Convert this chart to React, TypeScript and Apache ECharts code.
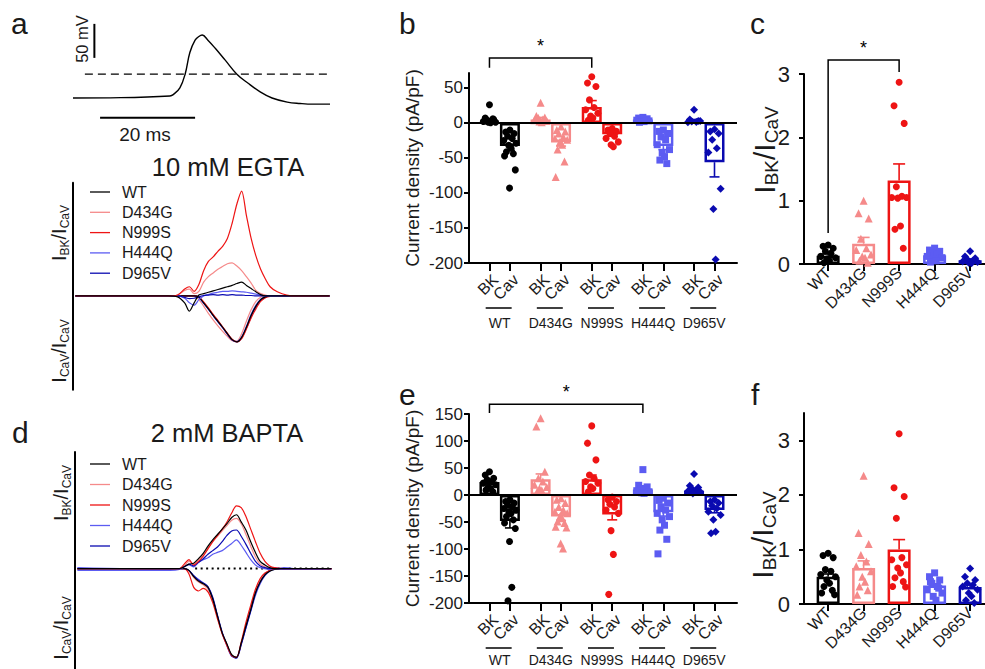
import React, { useEffect, useRef } from 'react';
import * as echarts from 'echarts';

const FONT = '"Liberation Sans", Arial, Helvetica, sans-serif';
const TEXT = '#1a1a1a';

// ---------- categories / styling keys ----------
const genotypes = ['WT', 'D434G', 'N999S', 'H444Q', 'D965V'];
const colors = ['#000000', '#f58a8a', '#ee1414', '#5c5cf2', '#0a0ab0'];
const symbols = ['circle', 'triangle', 'circle', 'rect', 'diamond'];
const symbolSizes = [7, 8, 7, 7, 8];
const currentKinds = ['BK', 'Cav'];

// ---------- panel a: action-potential command ----------
const apTime = [0, 10, 20.4, 21.1, 22.5, 23.6, 24.6, 25.7, 26.5, 27.2, 28.4, 29.9, 32, 34.5, 36.8, 39.4, 41.9, 45.1, 47.8, 50.5, 54.1];
const apMv = [-65, -64.5, -62, -60, -50, -30, 2, 20, 25.5, 27.6, 20, 8.5, -9, -30, -43, -56, -65, -71, -73, -74, -74];
const apThreshold = [[2.5, -30], [54.1, -30]];
const apScaleMv = [[4.5, -6], [4.5, 44]];
const apScaleMs = [[5.7, -94], [25.7, -94]];

// ---------- panel a: 10 mM EGTA traces (normalised to peak I_CaV) ----------
const traceTimeA = [0.5, 20, 22, 23.5, 24.5, 25.5, 26.5, 27.5, 28.5, 29.5, 30.5, 31.5, 32.5, 33.5, 34.5, 35.5, 36.5, 37.5, 38.5, 39.5, 40.5, 41.5, 43, 45, 48, 54];
const egtaTraceBK = [
  [0, 0, -0.02, -0.15, -0.33, -0.15, 0.02, 0.05, 0.08, 0.11, 0.14, 0.17, 0.2, 0.23, 0.27, 0.3, 0.23, 0.16, 0.09, 0.03, 0, 0, 0, 0, 0, 0],
  [0, 0, 0.02, 0.12, 0.15, 0.05, 0.1, 0.3, 0.42, 0.5, 0.58, 0.64, 0.7, 0.72, 0.65, 0.55, 0.42, 0.28, 0.12, 0.05, 0.02, 0, 0, 0, 0, 0],
  [0, 0, 0.02, 0.15, 0.2, 0.1, 0.25, 0.55, 0.75, 0.85, 0.97, 1.08, 1.25, 1.58, 2.0, 2.28, 1.75, 1.25, 0.87, 0.58, 0.37, 0.2, 0.09, 0.02, 0, 0],
  [0, 0, 0, -0.05, -0.15, -0.2, -0.08, 0, 0.03, 0.06, 0.08, 0.1, 0.1, 0.11, 0.1, 0.09, 0.08, 0.06, 0.04, 0.02, 0, 0, 0, 0, 0, 0],
  [0, 0, 0, -0.03, -0.06, -0.05, -0.02, 0.01, 0.02, 0.03, 0.02, 0.03, 0.02, 0.03, 0.02, 0.02, 0.01, 0.01, 0, 0, 0, 0, 0, 0, 0, 0],
];
const egtaTraceCaV = [
  [0, 0, 0, 0, 0, 0, -0.03, -0.15, -0.28, -0.42, -0.55, -0.68, -0.82, -0.95, -1.0, -0.9, -0.68, -0.42, -0.22, -0.08, -0.02, 0, 0, 0, 0, 0],
  [0, 0, 0, 0, 0, 0, -0.08, -0.22, -0.38, -0.52, -0.65, -0.77, -0.88, -0.97, -0.98, -0.82, -0.55, -0.3, -0.12, -0.03, 0, 0, 0, 0, 0, 0],
  [0, 0, 0, 0, 0, 0, -0.02, -0.13, -0.26, -0.4, -0.53, -0.67, -0.81, -0.94, -1.0, -0.93, -0.72, -0.48, -0.28, -0.12, -0.04, -0.01, 0, 0, 0, 0],
  [0, 0, 0, 0, 0, 0, -0.04, -0.16, -0.29, -0.43, -0.56, -0.69, -0.83, -0.95, -0.99, -0.89, -0.66, -0.4, -0.2, -0.07, -0.02, 0, 0, 0, 0, 0],
  [0, 0, 0, 0, 0, 0, -0.03, -0.15, -0.28, -0.42, -0.56, -0.69, -0.83, -0.96, -1.0, -0.91, -0.7, -0.45, -0.24, -0.1, -0.03, 0, 0, 0, 0, 0],
];

// ---------- panel d: 2 mM BAPTA traces ----------
const traceTimeD = [0.5, 20, 22, 23, 24, 25, 26, 27, 28, 29, 30, 31, 32, 33, 34, 35, 36, 37, 38, 39, 40, 41, 42, 44, 48, 54];
const baptaTraceBK = [
  [0, 0, 0, 0.02, 0.05, 0.06, 0.11, 0.17, 0.25, 0.32, 0.38, 0.44, 0.5, 0.57, 0.6, 0.52, 0.43, 0.3, 0.18, 0.08, 0.04, 0.01, 0, 0, 0, 0],
  [0, 0, 0, 0.03, 0.08, 0.05, 0.1, 0.16, 0.23, 0.3, 0.36, 0.42, 0.48, 0.54, 0.56, 0.5, 0.38, 0.25, 0.13, 0.05, 0.02, 0, 0, 0, 0, 0],
  [0, 0, 0, 0.05, 0.1, 0.04, 0.08, 0.14, 0.22, 0.3, 0.37, 0.44, 0.52, 0.62, 0.7, 0.68, 0.58, 0.44, 0.3, 0.17, 0.08, 0.03, 0.01, 0, 0, 0],
  [-0.02, -0.02, -0.01, 0.02, 0.04, 0.02, 0.07, 0.1, 0.12, 0.16, 0.18, 0.2, 0.24, 0.28, 0.32, 0.26, 0.18, 0.1, 0.04, 0.01, 0, -0.01, 0.01, -0.01, -0.01, 0],
  [0, 0, 0, 0.02, 0.05, 0.03, 0.07, 0.11, 0.16, 0.2, 0.24, 0.3, 0.37, 0.42, 0.43, 0.36, 0.27, 0.17, 0.08, 0.03, 0.01, 0, 0, 0, 0, 0],
];
const baptaTraceCaV = [
  [0, 0, 0, 0, -0.02, -0.09, -0.14, -0.17, -0.21, -0.34, -0.53, -0.72, -0.84, -0.96, -0.99, -0.83, -0.64, -0.46, -0.27, -0.15, -0.07, -0.03, -0.01, 0, 0, 0],
  [0, 0, 0, 0, -0.03, -0.1, -0.15, -0.18, -0.23, -0.35, -0.54, -0.72, -0.85, -0.97, -0.99, -0.84, -0.63, -0.44, -0.26, -0.13, -0.06, -0.02, 0, 0, 0, 0],
  [0, 0, 0, 0, -0.06, -0.21, -0.25, -0.22, -0.26, -0.38, -0.56, -0.73, -0.86, -0.97, -0.99, -0.82, -0.6, -0.41, -0.23, -0.11, -0.05, -0.02, 0, 0, 0, 0],
  [0.01, -0.01, 0, 0, -0.02, -0.08, -0.12, -0.16, -0.21, -0.33, -0.53, -0.72, -0.86, -0.98, -0.99, -0.84, -0.66, -0.48, -0.3, -0.17, -0.08, -0.03, -0.01, 0.01, -0.01, 0],
  [0, 0, 0, 0, -0.02, -0.08, -0.13, -0.16, -0.2, -0.32, -0.52, -0.71, -0.85, -0.97, -1.0, -0.85, -0.66, -0.47, -0.28, -0.15, -0.07, -0.02, 0, 0, 0, 0],
];
const baptaZeroLine = [[25.3, 0], [54, 0]];

// ---------- panel b: EGTA current densities (pA/pF) ----------
const egtaBKMean = [3, 5, 23, 5, 3];
const egtaBKSem = [2, 3, 9, 1, 2];
const egtaCaVMean = [-33, -27, -16, -33, -56];
const egtaCaVSem = [6, 6, 3, 5, 21];
const egtaBKPoints = [
  [26, 7, 5, 4, 3, 2, 1, 1, 0.5, 3, 6],
  [29, 10, 8, 7, 5, 4, 3, 2, 1, 6],
  [66, 57, 52, 33, 22, 19, 14, 10, 7, 4],
  [8, 7, 6, 5, 5, 4, 3, 3, 2, 1],
  [19, 5, 3, 2, 1.5, 1, 3],
];
const egtaCaVPoints = [
  [-10, -13, -15, -19, -22, -25, -29, -32, -36, -41, -44, -47, -67, -93],
  [-5, -10, -12, -15, -20, -22, -24, -27, -31, -38, -55, -77],
  [-8, -10, -12, -15, -19, -22, -27, -31, -34],
  [-10, -12, -15, -20, -24, -31, -38, -43, -48, -53, -58],
  [-9, -12, -15, -24, -36, -42, -94, -123, -195],
];

// ---------- panel c: EGTA I_BK / I_CaV ----------
const egtaRatioMean = [0.13, 0.32, 1.32, 0.14, 0.06];
const egtaRatioSem = [0.03, 0.1, 0.26, 0.02, 0.02];
const egtaRatioPoints = [
  [0.3, 0.28, 0.25, 0.2, 0.17, 0.12, 0.1, 0.08, 0.05, 0.02],
  [1.0, 0.8, 0.72, 0.4, 0.25, 0.22, 0.15, 0.12, 0.1, 0.05, 0.02],
  [2.87, 2.5, 2.22, 1.22, 1.07, 1.05, 1.05, 1.04, 0.6, 0.55, 0.25],
  [0.25, 0.22, 0.2, 0.18, 0.15, 0.12, 0.1, 0.08, 0.05, 0.03],
  [0.2, 0.12, 0.09, 0.07, 0.05, 0.04, 0.03, 0.02, 0.01],
];

// ---------- panel e: BAPTA current densities (pA/pF) ----------
const baptaBKMean = [24, 29, 29, 10, 8];
const baptaBKSem = [4, 10, 8, 3, 3];
const baptaCaVMean = [-48, -40, -36, -32, -28];
const baptaCaVSem = [13, 7, 10, 7, 5];
const baptaBKPoints = [
  [43, 37, 31, 28, 25, 22, 19, 15, 12, 9, 6],
  [142, 127, 43, 31, 25, 19, 15, 12, 9, 6],
  [128, 96, 65, 37, 31, 25, 22, 15, 12, 6],
  [47, 18, 15, 12, 10, 8, 6, 4, 3],
  [39, 17, 14, 12, 9, 7, 6, 3],
];
const baptaCaVPoints = [
  [-9, -12, -15, -19, -22, -25, -28, -31, -34, -40, -46, -52, -62, -86, -171, -196],
  [-6, -9, -15, -22, -28, -31, -34, -40, -43, -49, -52, -59, -60, -90, -99],
  [-4, -9, -12, -17, -22, -28, -34, -66, -110, -184],
  [-6, -10, -15, -22, -28, -34, -40, -46, -56, -65, -82, -109],
  [-9, -12, -15, -20, -25, -31, -37, -46, -68, -71],
];

// ---------- panel f: BAPTA I_BK / I_CaV ----------
const baptaRatioMean = [0.5, 0.66, 1.0, 0.34, 0.31];
const baptaRatioSem = [0.05, 0.13, 0.18, 0.03, 0.04];
const baptaRatioPoints = [
  [0.93, 0.89, 0.85, 0.63, 0.6, 0.54, 0.5, 0.44, 0.38, 0.32, 0.25, 0.2, 0.17],
  [2.35, 1.3, 1.1, 0.9, 0.78, 0.69, 0.6, 0.5, 0.41, 0.32, 0.25, 0.17],
  [3.12, 2.13, 1.97, 1.57, 0.85, 0.81, 0.72, 0.66, 0.57, 0.48, 0.41, 0.32, 0.31],
  [0.57, 0.5, 0.44, 0.38, 0.32, 0.26, 0.2, 0.14, 0.07, 0.41, 0.29],
  [0.65, 0.5, 0.44, 0.38, 0.35, 0.32, 0.26, 0.2, 0.14, 0.07, 0.02],
];

// ---------- tick values ----------
const densityTicksB = [-200, -150, -100, -50, 0, 50];
const densityTicksE = [-200, -150, -100, -50, 0, 50, 100, 150];
const ratioTicksC = [0, 1, 2, 3];
const ratioTicksF = [0, 1, 2, 3];

// ---------- layout helpers (positions, not data) ----------
const JIT = [0, -0.55, 0.55, -0.3, 0.3, -0.8, 0.8, -0.15, 0.15, -0.45, 0.45, -0.7, 0.7, -0.05, 0.25, -0.25, 0.6, -0.6];
const bkPos = (g: number) => 5 * g;
const cavPos = (g: number) => 5 * g + 2;
const pairTicks = genotypes.flatMap((_, g) => [bkPos(g), cavPos(g)]);

const jitter = (center: number, values: number[], half: number) =>
  values.map((v, k) => [center + JIT[k % JIT.length] * half, v]);

const richSub = (main: number, sub: number) => ({
  n: { fontSize: main, fontFamily: FONT, lineHeight: main + 4, fill: TEXT },
  s: { fontSize: sub, fontFamily: FONT, lineHeight: sub, verticalAlign: 'bottom', fill: TEXT },
});

function buildOption() {
  const series: any[] = [];
  const lineBase = { type: 'line', symbol: 'none', silent: true, animation: false, clip: false };

  // AP
  series.push({ ...lineBase, xAxisIndex: 0, yAxisIndex: 0, smooth: 0.4, data: apTime.map((t, i) => [t, apMv[i]]), lineStyle: { color: '#000', width: 1.4 } });
  series.push({ ...lineBase, xAxisIndex: 0, yAxisIndex: 0, data: apThreshold, lineStyle: { color: '#000', width: 1.3, type: [8, 5] } });
  series.push({ ...lineBase, xAxisIndex: 0, yAxisIndex: 0, data: apScaleMv, lineStyle: { color: '#000', width: 2 } });
  series.push({ ...lineBase, xAxisIndex: 0, yAxisIndex: 0, data: apScaleMs, lineStyle: { color: '#000', width: 2 } });

  const traceOrder = [1, 3, 4, 2, 0];
  traceOrder.forEach((g) => {
    series.push({ ...lineBase, name: genotypes[g], xAxisIndex: 1, yAxisIndex: 1, smooth: 0.3, data: traceTimeA.map((t, i) => [t, egtaTraceCaV[g][i]]), lineStyle: { color: colors[g], width: 1.2 } });
  });
  traceOrder.forEach((g) => {
    series.push({ ...lineBase, name: genotypes[g], xAxisIndex: 1, yAxisIndex: 1, smooth: 0.3, data: traceTimeA.map((t, i) => [t, egtaTraceBK[g][i]]), lineStyle: { color: colors[g], width: 1.2 } });
  });
  series.push({ ...lineBase, xAxisIndex: 2, yAxisIndex: 2, data: baptaZeroLine, lineStyle: { color: '#000', width: 2, type: [2, 3.5] } });
  traceOrder.forEach((g) => {
    series.push({ ...lineBase, name: genotypes[g], xAxisIndex: 2, yAxisIndex: 2, smooth: 0.3, data: traceTimeD.map((t, i) => [t, baptaTraceCaV[g][i]]), lineStyle: { color: colors[g], width: 1.2 } });
  });
  traceOrder.forEach((g) => {
    series.push({ ...lineBase, name: genotypes[g], xAxisIndex: 2, yAxisIndex: 2, smooth: 0.3, data: traceTimeD.map((t, i) => [t, baptaTraceBK[g][i]]), lineStyle: { color: colors[g], width: 1.2 } });
  });

  const errorSeries = (xi: number, yi: number, data: number[][], capHalf: number) => ({
    type: 'custom', xAxisIndex: xi, yAxisIndex: yi, clip: false, silent: true, z: 3,
    encode: { x: 0, y: 1 },
    data,
    renderItem: (_p: any, api: any) => {
      const x = api.value(0), m = api.value(1), s = api.value(2), g = api.value(3);
      const dir = m >= 0 ? 1 : -1;
      const a = api.coord([x, m]);
      const b = api.coord([x, m + dir * s]);
      const st = { stroke: colors[g], lineWidth: 1.6 };
      return {
        type: 'group', children: [
          { type: 'line', shape: { x1: a[0], y1: a[1], x2: b[0], y2: b[1] }, style: st },
          { type: 'line', shape: { x1: b[0] - capHalf, y1: b[1], x2: b[0] + capHalf, y2: b[1] }, style: st },
        ],
      };
    },
  });
  const bracketSeries = (xi: number, yi: number, d: number[]) => ({
    type: 'custom', xAxisIndex: xi, yAxisIndex: yi, clip: false, silent: true, z: 5,
    encode: { x: [0, 1], y: [2, 3, 4] },
    data: [d],
    renderItem: (_p: any, api: any) => {
      const x1 = api.value(0), x2 = api.value(1), top = api.value(2), l = api.value(3), r = api.value(4);
      const pL = api.coord([x1, l]), pA = api.coord([x1, top]), pB = api.coord([x2, top]), pR = api.coord([x2, r]);
      return {
        type: 'group', children: [
          { type: 'polyline', shape: { points: [pL, pA, pB, pR] }, style: { stroke: '#000', lineWidth: 1.5, fill: null } },
          { type: 'text', style: { text: '*', x: (pA[0] + pB[0]) / 2, y: pA[1] - 3, align: 'center', verticalAlign: 'bottom', font: `18px ${FONT}`, fill: '#000' } },
        ],
      };
    },
  });
  // group underline + name below the BK/Cav pair
  const groupSeries = (xi: number, yi: number, yMin: number, nameOffset: number) => ({
    type: 'custom', xAxisIndex: xi, yAxisIndex: yi, clip: false, silent: true,
    encode: { x: 0, y: 1 },
    data: genotypes.map((_, g) => [bkPos(g), yMin, g]),
    renderItem: (_p: any, api: any) => {
      const p0 = api.coord([api.value(0), api.value(1)]);
      const p1 = api.coord([api.value(0) + 1, api.value(1)]);
      const unit = p1[0] - p0[0];
      const cx = p0[0] + 0.9 * unit;
      const half = 1.27 * unit;
      return {
        type: 'group', children: [
          { type: 'line', shape: { x1: cx - half, y1: p0[1] + 45, x2: cx + half, y2: p0[1] + 45 }, style: { stroke: '#000', lineWidth: 1.5 } },
          { type: 'text', style: { text: genotypes[api.value(2)], x: p0[0] + unit, y: p0[1] + nameOffset, align: 'center', verticalAlign: 'middle', font: `14px ${FONT}`, fill: TEXT } },
        ],
      };
    },
  });
  // rotated BK / Cav tick labels (45 degrees, ending at the tick)
  const pairLabelSeries = (xi: number, yi: number, yMin: number) => ({
    type: 'custom', xAxisIndex: xi, yAxisIndex: yi, clip: false, silent: true,
    encode: { x: 0, y: 1 },
    data: genotypes.flatMap((_, g) => [[bkPos(g), yMin, 0], [cavPos(g), yMin, 1]]),
    renderItem: (_p: any, api: any) => {
      const p = api.coord([api.value(0), api.value(1)]);
      return {
        type: 'text', x: p[0] + 6, y: p[1] + 14, rotation: Math.PI / 4,
        style: { text: currentKinds[api.value(2)], x: 0, y: 0, align: 'right', verticalAlign: 'middle', font: `16px ${FONT}`, fill: TEXT },
      };
    },
  });

  const densityPanel = (xi: number, yi: number, bkMean: number[], bkSem: number[], cavMean: number[], cavSem: number[], bkPts: number[][], cavPts: number[][], nameOffset: number) => {
    const barData: any[] = [];
    const errData: number[][] = [];
    genotypes.forEach((_, g) => {
      barData.push({ value: [bkPos(g), bkMean[g]], itemStyle: { color: '#fff', borderColor: colors[g], borderWidth: 2.5 } });
      barData.push({ value: [cavPos(g), cavMean[g]], itemStyle: { color: '#fff', borderColor: colors[g], borderWidth: 2.5 } });
      errData.push([bkPos(g), bkMean[g], bkSem[g], g]);
      errData.push([cavPos(g), cavMean[g], cavSem[g], g]);
    });
    series.push({
      type: 'bar', xAxisIndex: xi, yAxisIndex: yi, barWidth: 20, silent: true, z: 2, data: barData,
      markLine: { silent: true, symbol: 'none', label: { show: false }, data: [{ yAxis: 0 }], lineStyle: { color: '#000', width: 2, type: 'solid' } },
    });
    series.push(errorSeries(xi, yi, errData, 5));
    genotypes.forEach((name, g) => {
      series.push({
        type: 'scatter', name, xAxisIndex: xi, yAxisIndex: yi, silent: true, z: 4,
        symbol: symbols[g], symbolSize: symbolSizes[g], itemStyle: { color: colors[g], opacity: 1 },
        data: [...jitter(bkPos(g), bkPts[g], 0.75), ...jitter(cavPos(g), cavPts[g], 0.75)],
      });
    });
    series.push(groupSeries(xi, yi, -200, nameOffset));
    series.push(pairLabelSeries(xi, yi, -200));
  };
  densityPanel(3, 3, egtaBKMean, egtaBKSem, egtaCaVMean, egtaCaVSem, egtaBKPoints, egtaCaVPoints, 60);
  series.push(bracketSeries(3, 3, [bkPos(0), bkPos(2), 93, 79, 79]));
  densityPanel(5, 5, baptaBKMean, baptaBKSem, baptaCaVMean, baptaCaVSem, baptaBKPoints, baptaCaVPoints, 57);
  series.push(bracketSeries(5, 5, [bkPos(0), bkPos(3), 168, 152, 152]));

  const ratioPanel = (xi: number, yi: number, mean: number[], sem: number[], pts: number[][]) => {
    series.push({
      type: 'bar', xAxisIndex: xi, yAxisIndex: yi, barWidth: 23, silent: true, z: 2,
      data: genotypes.map((_, g) => ({ value: [g, mean[g]], itemStyle: { color: '#fff', borderColor: colors[g], borderWidth: 2.5 } })),
    });
    series.push(errorSeries(xi, yi, genotypes.map((_, g) => [g, mean[g], sem[g], g]), 6));
    genotypes.forEach((name, g) => {
      series.push({
        type: 'scatter', name, xAxisIndex: xi, yAxisIndex: yi, silent: true, z: 4,
        symbol: symbols[g], symbolSize: symbolSizes[g], itemStyle: { color: colors[g], opacity: 1 },
        data: jitter(g, pts[g], 0.26),
      });
    });
  };
  ratioPanel(4, 4, egtaRatioMean, egtaRatioSem, egtaRatioPoints);
  series.push(bracketSeries(4, 4, [0, 2, 3.22, 0.49, 3.03]));
  ratioPanel(6, 6, baptaRatioMean, baptaRatioSem, baptaRatioPoints);

  const axLine = { show: true, onZero: false, lineStyle: { color: '#000', width: 2 } };
  const hidden = { show: false };
  const traceX = (gridIndex: number, max: number) => ({ gridIndex, type: 'value', min: 0, max, show: false });
  const pairX = (gridIndex: number) => ({
    gridIndex, type: 'value', min: -2, max: 24.2, position: 'bottom',
    axisLine: axLine,
    axisTick: { show: true, customValues: pairTicks, length: 8, lineStyle: { color: '#000', width: 2 } },
    axisLabel: { show: false },
    splitLine: hidden,
  });
  const ratioX = (gridIndex: number) => ({
    gridIndex, type: 'value', min: -0.68, max: 4.42, position: 'bottom',
    axisLine: axLine,
    axisTick: { show: true, customValues: [0, 1, 2, 3, 4], length: 7, lineStyle: { color: '#000', width: 2 } },
    axisLabel: { show: true, customValues: [0, 1, 2, 3, 4], rotate: 45, margin: 6, color: TEXT, fontSize: 16, fontFamily: FONT, formatter: (v: number) => genotypes[Math.round(v)], showMinLabel: true, showMaxLabel: true },
    splitLine: hidden,
  });
  const valueY = (gridIndex: number, min: number, max: number, ticks: number[], fontSize: number, margin: number, extra: any = {}) => ({
    gridIndex, type: 'value', min, max,
    axisLine: axLine,
    axisTick: { show: true, customValues: ticks, length: 5, lineStyle: { color: '#000', width: 2 } },
    axisLabel: { show: true, customValues: ticks, color: TEXT, fontSize, fontFamily: FONT, margin },
    splitLine: hidden,
    ...extra,
  });
  const densityName = { name: 'Current density (pA/pF)', nameLocation: 'middle', nameGap: 47, nameTextStyle: { fontSize: 19, color: TEXT, fontFamily: FONT } };

  const xAxis = [
    traceX(0, 54.1), traceX(1, 54.1), traceX(2, 53.7),
    pairX(3), ratioX(4), pairX(5), ratioX(6),
  ];
  const yAxis = [
    { gridIndex: 0, type: 'value', min: -100, max: 50, show: false },
    { gridIndex: 1, type: 'value', min: -2.04, max: 2.46, axisLine: axLine, axisTick: hidden, axisLabel: hidden, splitLine: hidden },
    { gridIndex: 2, type: 'value', min: -1.12, max: 1.3, axisLine: axLine, axisTick: hidden, axisLabel: hidden, splitLine: hidden },
    valueY(3, -200, 71.4, densityTicksB, 17, 6, densityName),
    valueY(4, 0, 3, ratioTicksC, 22, 14),
    valueY(5, -200, 150, densityTicksE, 17, 6, densityName),
    valueY(6, 0, 3.5, ratioTicksF, 22, 14),
  ];
  const grid = [
    { left: 73, top: 19.8, width: 257, height: 102 },
    { left: 73, top: 182.8, width: 257, height: 207 },
    { left: 75, top: 452, width: 255, height: 218 },
    { left: 469, top: 73, width: 268, height: 190 },
    { left: 804, top: 74, width: 181, height: 190 },
    { left: 469, top: 414, width: 268, height: 189 },
    { left: 804, top: 413, width: 181, height: 191 },
  ];

  const graphic: any[] = [];
  const letter = (t: string, x: number, y: number) => graphic.push({ type: 'text', x, y, style: { text: t, font: `30px ${FONT}`, fill: TEXT, verticalAlign: 'middle' } });
  letter('a', 11, 23); letter('b', 399, 23); letter('c', 750, 23);
  letter('d', 12, 432); letter('e', 399, 394); letter('f', 751, 394);
  const text = (t: string, x: number, y: number, size: number, rotation = 0) =>
    graphic.push({ type: 'text', x, y, rotation, style: { text: t, font: `${size}px ${FONT}`, fill: TEXT, align: 'center', verticalAlign: 'middle' } });
  text('10 mM EGTA', 228, 167, 25.5);
  text('2 mM BAPTA', 227, 433, 25.5);
  text('50 mV', 82, 39, 16.5, Math.PI / 2);
  text('20 ms', 145, 134, 19);
  const legend = (x0: number, y0: number, pitch: number) => {
    genotypes.forEach((name, g) => {
      const y = y0 + g * pitch;
      graphic.push({ type: 'line', shape: { x1: x0, y1: y, x2: x0 + 20, y2: y }, style: { stroke: colors[g], lineWidth: 1.3 } });
      graphic.push({ type: 'text', x: x0 + 32, y, style: { text: name, font: `16px ${FONT}`, fill: TEXT, verticalAlign: 'middle' } });
    });
  };
  legend(90, 192, 20.3);
  legend(90, 464, 20.5);
  const rotLabel = (t: string, x: number, y: number, main: number, sub: number) =>
    graphic.push({ type: 'text', x, y, rotation: Math.PI / 2, style: { text: t, rich: richSub(main, sub), align: 'center', verticalAlign: 'middle', fill: TEXT } });
  const bkOverCav = '{n|I}{s|BK}{n|/I}{s|CaV}';
  const cavOverCav = '{n|I}{s|CaV}{n|/I}{s|CaV}';
  rotLabel(bkOverCav, 59, 233, 20, 12);
  rotLabel(cavOverCav, 59, 351, 20, 12);
  rotLabel(bkOverCav, 61, 493, 20, 12);
  rotLabel(cavOverCav, 61, 628, 20, 12);
  rotLabel(bkOverCav, 764, 150, 30, 19);
  rotLabel(bkOverCav, 762, 535, 30, 19);

  return {
    animation: false,
    backgroundColor: '#ffffff',
    textStyle: { fontFamily: FONT },
    grid, xAxis, yAxis, series, graphic,
  };
}

export default function App() {
  const ref = useRef<HTMLDivElement>(null);
  useEffect(() => {
    const chart = echarts.init(ref.current as HTMLDivElement, undefined, { renderer: 'svg' });
    chart.setOption(buildOption() as any);
    return () => chart.dispose();
  }, []);
  return <div ref={ref} style={{ position: 'fixed', left: 0, top: 0, width: 985, height: 669, background: '#fff' }} />;
}
